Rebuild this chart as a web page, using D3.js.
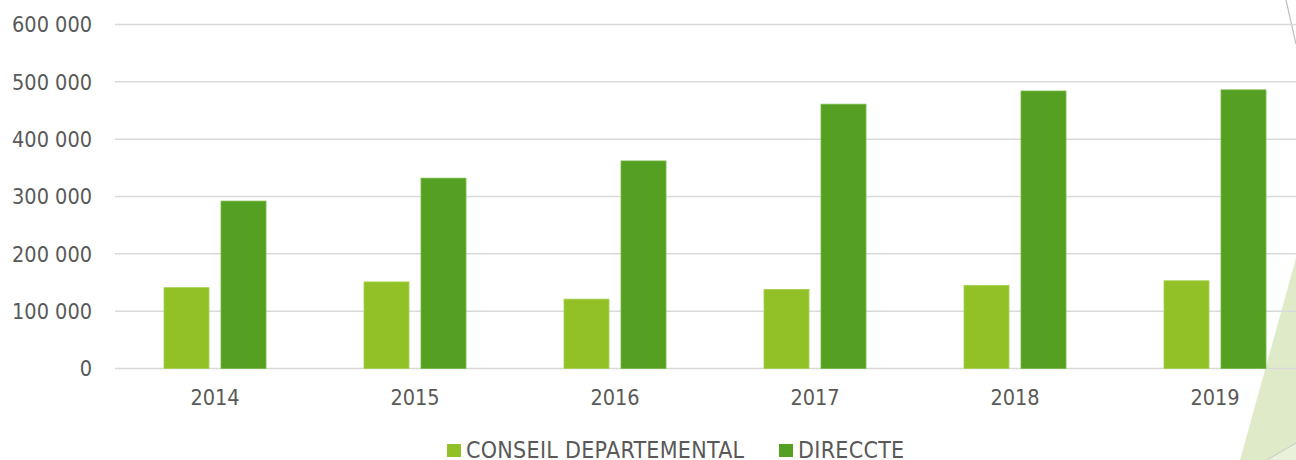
<!DOCTYPE html>
<html lang="fr">
<head>
<meta charset="utf-8">
<title>Conseil départemental / DIRECCTE</title>
<script src="https://cdn.jsdelivr.net/npm/d3@7"></script>
<style>
  body { margin: 0; background: #fff; }
  text { font-family: "DejaVu Sans Condensed", "DejaVu Sans", sans-serif; fill: #595959; }
</style>
</head>
<body>
<svg id="chart"></svg>
<script>
// donnees
var years = ["2014", "2015", "2016", "2017", "2018", "2019"];
var seriesNames = ["CONSEIL DEPARTEMENTAL", "DIRECCTE"];
var conseil = [141000, 151000, 121000, 138000, 145000, 153000];
var direccte = [292000, 332000, 362000, 461000, 484000, 486000];
var yTicks = [0, 100000, 200000, 300000, 400000, 500000, 600000];

var width = 1296;
var height = 460;
var colours = ["#92c127", "#55a022"];

var svg = d3.select("#chart")
    .attr("width", width)
    .attr("height", height);

// decor en fond (coin droit)
var deco = svg.append("g");
deco.append("path")
    .attr("d", "M1296,258 L1240,460 L1296,460 Z")
    .attr("fill", "#dfebc8");
deco.append("path")
    .attr("d", "M1267,460 L1296,443 L1296,460 Z")
    .attr("fill", "#e9f1da");
deco.append("line")
    .attr("x1", 1267).attr("y1", 460).attr("x2", 1296).attr("y2", 443)
    .attr("stroke", "#c8c8c8").attr("stroke-width", 1);
deco.append("line")
    .attr("x1", 1286).attr("y1", 0).attr("x2", 1296).attr("y2", 44)
    .attr("stroke", "#bfbfbf").attr("stroke-width", 1.2);

var x0 = d3.scaleBand()
    .domain(years)
    .range([115, 1315]);

var x1 = d3.scaleBand()
    .domain(seriesNames)
    .range([49, 151])
    .paddingInner(12 / 57);

var y = d3.scaleLinear()
    .domain([0, 600000])
    .range([368.5, 24.5]);

var fr = d3.formatLocale({ decimal: ",", thousands: " ", grouping: [3], currency: ["", " €"] });
var fmt = fr.format(",.0f");

// grille
svg.append("g")
    .selectAll("line")
    .data(yTicks)
    .enter()
    .append("line")
    .attr("x1", 115)
    .attr("x2", width)
    .attr("y1", d => y(d))
    .attr("y2", d => y(d))
    .attr("stroke", "#d9d9d9")
    .attr("stroke-width", 1.5);

// axe y
svg.append("g")
    .selectAll("text")
    .data(yTicks)
    .enter()
    .append("text")
    .attr("x", 92)
    .attr("y", d => y(d))
    .attr("dy", "0.36em")
    .attr("text-anchor", "end")
    .style("font-size", "21.5px")
    .text(d => fmt(d));

// barres
var rows = years.map((yr, i) => ({ year: yr, values: [conseil[i], direccte[i]] }));

var groups = svg.append("g")
    .selectAll("g")
    .data(rows)
    .enter()
    .append("g")
    .attr("transform", d => "translate(" + x0(d.year) + ",0)");

groups.selectAll("rect")
    .data(d => d.values.map((v, k) => ({ name: seriesNames[k], value: v, k: k })))
    .enter()
    .append("rect")
    .attr("x", d => x1(d.name))
    .attr("width", x1.bandwidth())
    .attr("y", d => y(d.value))
    .attr("height", d => y(0) - y(d.value))
    .attr("fill", d => colours[d.k])
    .attr("stroke", d => d.k === 0 ? "#a6d14e" : "#74b843")
    .attr("stroke-width", 0.8);

// axe x
svg.append("g")
    .selectAll("text")
    .data(years)
    .enter()
    .append("text")
    .attr("x", d => x0(d) + x0.bandwidth() / 2)
    .attr("y", 405)
    .attr("text-anchor", "middle")
    .style("font-size", "21.5px")
    .text(d => d);

// legende
var legendX = [447, 779];
var legend = svg.append("g")
    .selectAll("g")
    .data(seriesNames)
    .enter()
    .append("g")
    .attr("transform", (d, i) => "translate(" + legendX[i] + ",0)");

legend.append("rect")
    .attr("x", 0)
    .attr("y", 444)
    .attr("width", 14)
    .attr("height", 13)
    .attr("fill", (d, i) => colours[i]);

legend.append("text")
    .attr("x", 19)
    .attr("y", 457.5)
    .style("font-size", "23px")
    .style("letter-spacing", "0.3px")
    .text(d => d);
</script>
</body>
</html>
